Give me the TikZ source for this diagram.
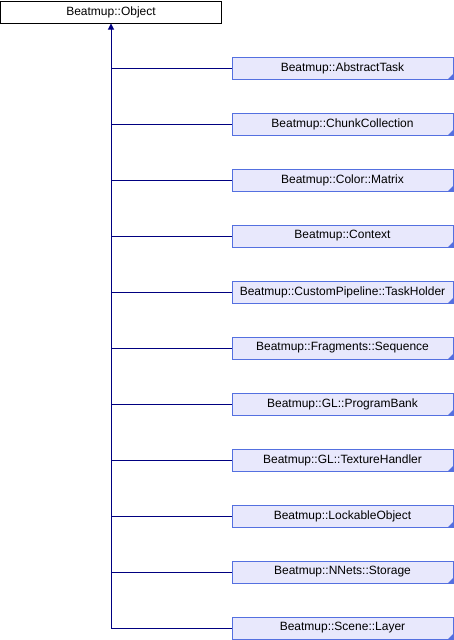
\documentclass[tikz,border=0pt]{standalone}
\usepackage{fontspec}
\setmainfont{Liberation Sans}
\usetikzlibrary{arrows.meta}
\definecolor{linknavy}{RGB}{0,0,128}
\definecolor{boxfill}{RGB}{232,232,252}
\definecolor{boxedge}{RGB}{84,112,224}

\tikzset{
  rootbox/.style={draw=black, fill=white, line width=1pt, minimum width=221pt, minimum height=22pt, inner sep=0pt, font=\fontsize{12}{14}\selectfont},
  childbox/.style={draw=boxedge, fill=boxfill, line width=1pt, minimum width=221pt, minimum height=22pt, inner sep=0pt, font=\fontsize{12}{14}\selectfont,
    path picture={\fill[boxedge] (path picture bounding box.south east) -- ++(-5pt,0) -- ++(5pt,5pt) -- cycle;}},
  link/.style={draw=linknavy, line width=1pt}
}

\begin{document}
\begin{tikzpicture}[line cap=butt,line join=miter,x=1pt,y=-1pt]
        \useasboundingbox (0,0) rectangle (454,640);

        \node [rootbox] (obj) at (111,12) {Beatmup::Object};

        \node [childbox] (task) at (342.5,68) {Beatmup::AbstractTask};
        \node [childbox] (chunk) at (342.5,124) {Beatmup::ChunkCollection};
        \node [childbox] (matrix) at (342.5,180) {Beatmup::Color::Matrix};
        \node [childbox] (ctx) at (342.5,236) {Beatmup::Context};
        \node [childbox] (holder) at (342.5,292) {Beatmup::CustomPipeline::TaskHolder};
        \node [childbox] (seq) at (342.5,348) {Beatmup::Fragments::Sequence};
        \node [childbox] (bank) at (342.5,404) {Beatmup::GL::ProgramBank};
        \node [childbox] (texh) at (342.5,460) {Beatmup::GL::TextureHandler};
        \node [childbox] (lockable) at (342.5,516) {Beatmup::LockableObject};
        \node [childbox] (storage) at (342.5,572) {Beatmup::NNets::Storage};
        \node [childbox] (layer) at (342.5,628) {Beatmup::Scene::Layer};

        % trunk up to the base class
        \draw [link,-{Triangle[length=6pt,width=6pt]}] (layer.west -| obj.south) -- (obj.south);

        \draw [link] (task.west -| obj.south) -- (task.west);
        \draw [link] (chunk.west -| obj.south) -- (chunk.west);
        \draw [link] (matrix.west -| obj.south) -- (matrix.west);
        \draw [link] (ctx.west -| obj.south) -- (ctx.west);
        \draw [link] (holder.west -| obj.south) -- (holder.west);
        \draw [link] (seq.west -| obj.south) -- (seq.west);
        \draw [link] (bank.west -| obj.south) -- (bank.west);
        \draw [link] (texh.west -| obj.south) -- (texh.west);
        \draw [link] (lockable.west -| obj.south) -- (lockable.west);
        \draw [link] (storage.west -| obj.south) -- (storage.west);
        \draw [link] (layer.west -| obj.south) -- (layer.west);
\end{tikzpicture}
\end{document}
